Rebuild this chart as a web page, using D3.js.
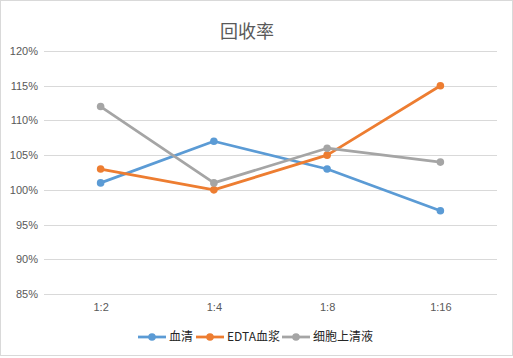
<!DOCTYPE html>
<html>
<head>
<meta charset="utf-8">
<script src="https://cdn.jsdelivr.net/npm/d3@7"></script>
<style>
  html, body { margin: 0; padding: 0; background: #fff; }
  svg { display: block; }
</style>
</head>
<body>
<div id="chart"></div>
<script>
const categories = ["1:2", "1:4", "1:8", "1:16"];
const serum = [1.01, 1.07, 1.03, 0.97];
const edtaPlasma = [1.03, 1.00, 1.05, 1.15];
const supernatant = [1.12, 1.01, 1.06, 1.04];
const yTicks = [0.85, 0.90, 0.95, 1.00, 1.05, 1.10, 1.15, 1.20];

const series = [
  { name: "血清", values: serum, color: "#5b9bd5" },
  { name: "EDTA血浆", values: edtaPlasma, color: "#ed7d31" },
  { name: "细胞上清液", values: supernatant, color: "#a5a5a5" }
];

const width = 513, height = 358;
const margin = { top: 51, right: 16, bottom: 64, left: 44 };

const svg = d3.select("#chart")
  .append("svg")
  .attr("width", width)
  .attr("height", height);

// chart border
svg.append("rect")
  .attr("x", 0.5).attr("y", 0.5)
  .attr("width", width - 1).attr("height", height - 3)
  .attr("fill", "#fff")
  .attr("stroke", "#d9d9d9");

const x = d3.scalePoint()
  .domain(categories)
  .range([margin.left, width - margin.right])
  .padding(0.5);

const y = d3.scaleLinear()
  .domain([0.85, 1.20])
  .range([height - margin.bottom, margin.top]);

// title
svg.append("text")
  .attr("x", 247)
  .attr("y", 38)
  .attr("text-anchor", "middle")
  .attr("font-family", "'Noto Sans CJK SC', sans-serif")
  .attr("font-size", 18)
  .attr("fill", "#595959")
  .text("回收率");

// gridlines
svg.append("g")
  .selectAll("line")
  .data(yTicks)
  .join("line")
  .attr("x1", margin.left)
  .attr("x2", width - margin.right)
  .attr("y1", d => Math.round(y(d)) + 0.5)
  .attr("y2", d => Math.round(y(d)) + 0.5)
  .attr("stroke", "#d9d9d9")
  .attr("stroke-width", 1);

// y axis labels
const yAxis = d3.axisLeft(y)
  .tickValues(yTicks)
  .tickFormat(d3.format(".0%"))
  .tickSize(0)
  .tickPadding(6);

svg.append("g")
  .attr("transform", `translate(${margin.left},0)`)
  .call(yAxis)
  .call(g => g.select(".domain").remove())
  .call(g => g.selectAll("text")
    .attr("font-family", "'Liberation Sans', Arial, sans-serif")
    .attr("font-size", 11)
    .attr("fill", "#595959"));

// x axis labels
const xAxis = d3.axisBottom(x).tickSize(0).tickPadding(9);
svg.append("g")
  .attr("transform", `translate(0,${height - margin.bottom})`)
  .call(xAxis)
  .call(g => g.select(".domain").remove())
  .call(g => g.selectAll("text")
    .attr("font-family", "'Liberation Sans', Arial, sans-serif")
    .attr("font-size", 11)
    .attr("fill", "#595959"));

const line = d3.line()
  .x((d, i) => x(categories[i]))
  .y(d => y(d));

series.forEach(s => {
  svg.append("path")
    .datum(s.values)
    .attr("fill", "none")
    .attr("stroke", s.color)
    .attr("stroke-width", 2.75)
    .attr("stroke-linejoin", "round")
    .attr("d", line);

  svg.append("g")
    .selectAll("circle")
    .data(s.values)
    .join("circle")
    .attr("cx", (d, i) => x(categories[i]))
    .attr("cy", d => y(d))
    .attr("r", 3.8)
    .attr("fill", s.color);
});

// legend
const legendX = [138, 196, 282];
const legendY = 337;
const legend = svg.append("g");
series.forEach((s, i) => {
  const g = legend.append("g").attr("transform", `translate(${legendX[i]},${legendY})`);
  g.append("line")
    .attr("x1", 0).attr("x2", 28)
    .attr("y1", 0).attr("y2", 0)
    .attr("stroke", s.color)
    .attr("stroke-width", 2.75);
  g.append("circle")
    .attr("cx", 14).attr("cy", 0).attr("r", 3.8)
    .attr("fill", s.color);
  g.append("text")
    .attr("x", 31)
    .attr("y", 0)
    .attr("dy", "0.35em")
    .attr("font-family", "'Noto Sans CJK SC', sans-serif")
    .attr("font-size", 12)
    .attr("fill", "#262626")
    .text(s.name);
});
</script>
</body>
</html>
